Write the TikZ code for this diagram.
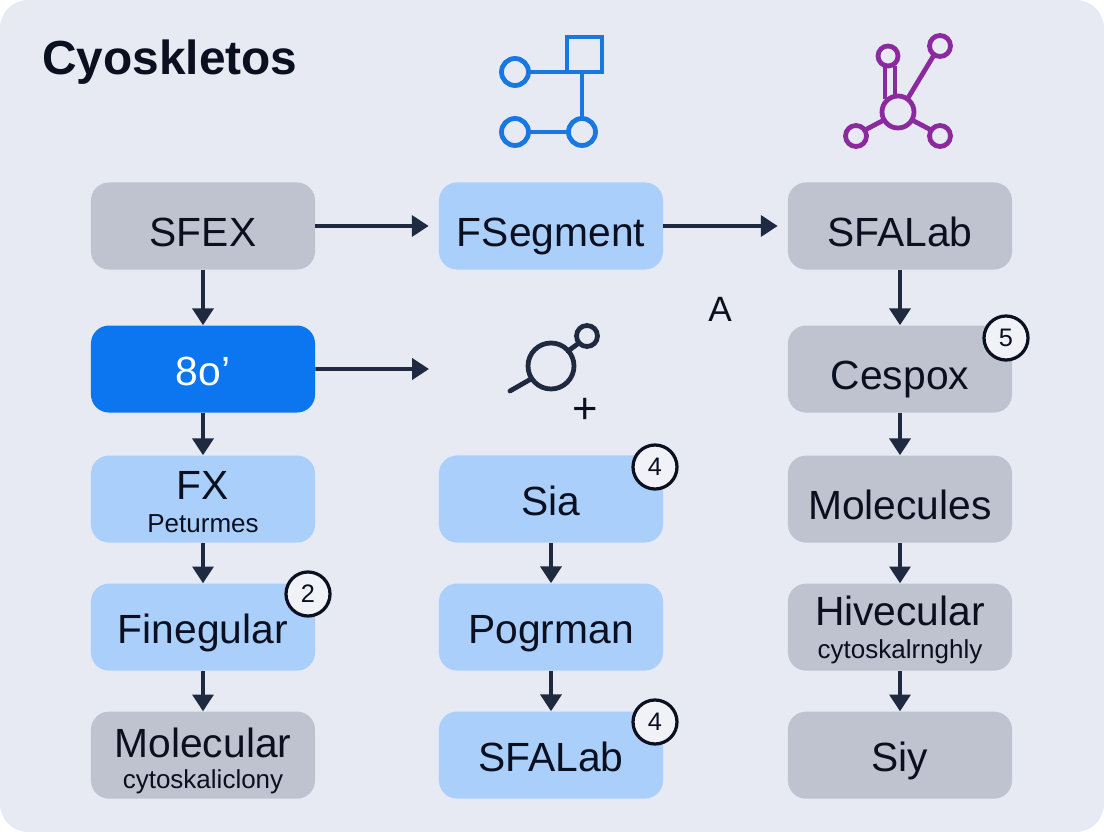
\documentclass[tikz,border=0pt]{standalone}
\usepackage{fontspec}
\setmainfont{Liberation Sans}
\usepackage{xcolor}
\usetikzlibrary{arrows.meta,positioning,calc}

\definecolor{pagebg}{HTML}{E7EAF2}
\definecolor{greybox}{HTML}{BEC3CF}
\definecolor{lightblue}{HTML}{ABCFFB}
\definecolor{strongblue}{HTML}{0B76F0}
\definecolor{inkdark}{HTML}{0B1020}
\definecolor{arrowdark}{HTML}{1F2A40}
\definecolor{iconblue}{HTML}{1877E0}
\definecolor{iconpurple}{HTML}{8B2A9E}

\begin{document}
\begin{tikzpicture}[
    x=0.025cm, y=-0.025cm,
    node distance=3.2cm,
    box/.style={rectangle, rounded corners=0.45cm, minimum width=5.6cm, minimum height=2.175cm, inner sep=0pt, text=inkdark, align=center, text height=1.1cm, text depth=0.3cm, font=\fontsize{29}{32}\selectfont},
    lowtext/.style={text height=1.2cm, text depth=0.2cm},
    greynode/.style={box, fill=greybox},
    bluenode/.style={box, fill=lightblue},
    activenode/.style={box, fill=strongblue, text=white},
    badge/.style={circle, draw=inkdark, line width=2.3pt, fill=pagebg!60!white, minimum size=1.1cm, inner sep=0pt, text=inkdark, font=\fontsize{18}{20}\selectfont},
    maintext/.style={anchor=base, text=inkdark, inner sep=0pt, font=\fontsize{29}{32}\selectfont},
    subtext/.style={anchor=base, text=inkdark, inner sep=0pt, font=\fontsize{18.5}{20}\selectfont},
    line/.style={draw=arrowdark, line width=2.8pt, -{Triangle[length=0.42cm,width=0.52cm]}},
    gapline/.style={line, shorten >=0.25cm},
    blueicon/.style={draw=iconblue, line width=3.4pt},
    purpleicon/.style={draw=iconpurple, line width=3.4pt},
    darkicon/.style={draw=arrowdark, line width=3.4pt, line cap=round}
]
\useasboundingbox (0,0) rectangle (1104,832);

% Background
\fill[pagebg] (0,0) [rounded corners=0.7cm] rectangle (1104,832);

% Title
\node [anchor=base west, inner sep=0pt, text=inkdark, font=\bfseries\fontsize{34}{37}\selectfont] (title) at (42,75) {Cyoskletos};

% Left column
\node [greynode, lowtext] (sfex) at (203,226) {SFEX};
\node [activenode, below of=sfex, yshift=-0.375cm] (active) {8o'};
\node [bluenode, below of=active, yshift=-0.05cm] (fx) {};
\node [bluenode, below of=fx] (finegular) {Finegular};
\node [greynode, below of=finegular] (molecular) {};
\node [maintext] (fxtext) at (203,500) {FX};
\node [subtext] (fxsub) at (203,532) {Peturmes};
\node [maintext] (moltext) at (203,757) {Molecular};
\node [subtext] (molsub) at (203,788) {cytoskaliclony};

% Middle column
\node [bluenode, lowtext] (fsegment) at (551,226) {FSegment};
\coordinate (probe) at (439,369);
\node [bluenode] (sia) at (551,499) {Sia};
\node [bluenode, below of=sia] (pogrman) {Pogrman};
\node [bluenode, below of=pogrman] (sfalabb) {SFALab};

% Right column
\node [greynode, lowtext] (sfalab) at (900,226) {SFALab};
\node [greynode, lowtext, below of=sfalab, yshift=-0.375cm] (cespox) {Cespox};
\node [greynode, lowtext, below of=cespox, yshift=-0.05cm] (molecules) {Molecules};
\node [greynode, below of=molecules] (hivecular) {};
\node [greynode, below of=hivecular] (siy) {Siy};
\node [maintext] (hivtext) at (900,625) {Hivecular};
\node [subtext] (hivsub) at (900,658) {cytoskalrnghly};

% Loose labels
\node [anchor=base, inner sep=0pt, text=inkdark, font=\fontsize{25}{28}\selectfont] (letter) at (720,322) {A};
\node [text=inkdark, inner sep=0pt, font=\fontsize{31}{34}\selectfont] (plus) at (585,411) {+};

% Badges
\node [badge] (badgetwo) at (308,594) {2};
\node [badge] (badgefoura) at (655,467) {4};
\node [badge] (badgefourb) at (655,722) {4};
\node [badge] (badgefive) at (1006,338) {5};

% Connections
\path [gapline] (sfex) -- (fsegment);
\path [gapline] (fsegment) -- (sfalab);
\path [line] (sfex) -- (active);
\path [line] (active) -- (fx);
\path [line] (fx) -- (finegular);
\path [line] (finegular) -- (molecular);
\path [gapline] (active) -- (probe);
\path [line] (sia) -- (pogrman);
\path [line] (pogrman) -- (sfalabb);
\path [line] (sfalab) -- (cespox);
\path [line] (cespox) -- (molecules);
\path [line] (molecules) -- (hivecular);
\path [line] (hivecular) -- (siy);

% Blue icon
\draw [blueicon] (567,37) rectangle (602,72);
\draw [blueicon] (515,72) circle (13.5);
\draw [blueicon] (515,132) circle (13.5);
\draw [blueicon] (582,132) circle (13.5);
\draw [blueicon] (528,72) -- (567,72);
\draw [blueicon] (582,72) -- (582,119);
\draw [blueicon] (528,132) -- (569,132);

% Purple icon
\draw [purpleicon] (888,56) circle (10);
\draw [purpleicon] (940,46) circle (10.5);
\draw [purpleicon] (856,136) circle (10.5);
\draw [purpleicon] (940,136) circle (10.5);
\draw [purpleicon] (898,112) circle (16);
\draw [purpleicon] (885,66) -- (885,99);
\draw [purpleicon] (895,66) -- (895,96);
\draw [purpleicon] (934,55) -- (908,98);
\draw [purpleicon] (865,130) -- (884,120);
\draw [purpleicon] (931,130) -- (912,120);

% Dark icon
\draw [darkicon] (551,366) circle (23);
\draw [darkicon] (587,336) circle (10.5);
\draw [darkicon] (568,351) -- (579,343);
\draw [darkicon] (531,379) -- (510,391);

\end{tikzpicture}
\end{document}
